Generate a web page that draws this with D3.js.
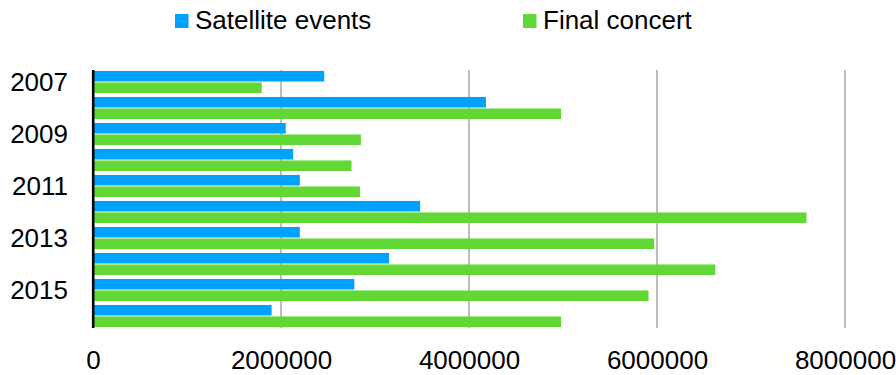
<!DOCTYPE html>
<html>
<head>
<meta charset="utf-8">
<script src="https://cdn.jsdelivr.net/npm/d3@7"></script>
<style>
  html, body { margin: 0; padding: 0; background: #fff; }
  svg { display: block; font-family: "Liberation Sans", Arial, sans-serif; }
</style>
</head>
<body>
<svg id="chart" width="896" height="375"></svg>
<script>
const years = ["2007","2008","2009","2010","2011","2012","2013","2014","2015","2016"];
const seriesNames = ["Satellite events", "Final concert"];
const satellite = [2460000, 4180000, 2050000, 2130000, 2200000, 3480000, 2200000, 3150000, 2780000, 1900000];
const finalConcert = [1795000, 4980000, 2850000, 2750000, 2840000, 7590000, 5970000, 6620000, 5910000, 4980000];
const xTicks = [0, 2000000, 4000000, 6000000, 8000000];
const yLabelYears = ["2007","2009","2011","2013","2015"];
const colors = ["#00A2FF", "#61D836"];

(function () {
const svg = d3.select("#chart");
const pLeft = 93, pRight = 845, pTop = 70, pBottom = 328;

const x = d3.scaleLinear().domain([0, 8000000]).range([pLeft, pRight]);
const y = d3.scaleBand().domain(years).range([69, 329]).paddingInner(0.15).paddingOuter(0.075);
const sub = d3.scaleBand().domain(seriesNames).range([0, y.bandwidth()]).paddingInner(0.08);

// gridlines
svg.append("g").selectAll("line").data(xTicks.filter(d => d > 0)).join("line")
  .attr("x1", d => x(d)).attr("x2", d => x(d))
  .attr("y1", pTop).attr("y2", pBottom)
  .attr("stroke", "#BDBDBD").attr("stroke-width", 2);

const data = years.map((yr, i) => ({ year: yr, values: [satellite[i], finalConcert[i]] }));

svg.append("g").selectAll("g").data(data).join("g")
  .attr("transform", d => `translate(0,${y(d.year)})`)
  .selectAll("rect").data(d => d.values.map((v, j) => ({ name: seriesNames[j], v, j })))
  .join("rect")
  .attr("x", x(0))
  .attr("y", d => sub(d.name))
  .attr("width", d => x(d.v) - x(0))
  .attr("height", sub.bandwidth())
  .attr("fill", d => colors[d.j]);

// y axis line
svg.append("line").attr("x1", 93.2).attr("x2", 93.2).attr("y1", pTop).attr("y2", pBottom)
  .attr("stroke", "#000").attr("stroke-width", 2.6);

// y labels
const yAxis = d3.axisLeft(y).tickValues(yLabelYears).tickSize(0).tickPadding(0);
const yg = svg.append("g").attr("transform", `translate(68,0)`).call(yAxis);
yg.select(".domain").remove();
yg.selectAll("text").attr("font-size", 26).attr("fill", "#000")
  .attr("font-family", "Liberation Sans, Arial, sans-serif").attr("dy", "0.36em");

// x labels
const xAxis = d3.axisBottom(x).tickValues(xTicks).tickSize(0).tickPadding(0).tickFormat(d3.format("d"));
const xg = svg.append("g").attr("transform", `translate(0,369)`).call(xAxis);
xg.select(".domain").remove();
xg.selectAll("text").attr("font-size", 26).attr("fill", "#000")
  .attr("font-family", "Liberation Sans, Arial, sans-serif").attr("dy", "0");

// legend
const legendPos = [{ sx: 175, tx: 195 }, { sx: 523, tx: 543 }];
const lg = svg.append("g");
seriesNames.forEach((n, i) => {
  lg.append("rect").attr("x", legendPos[i].sx).attr("y", 14).attr("width", 13.5).attr("height", 14).attr("fill", colors[i]);
  lg.append("text").attr("x", legendPos[i].tx).attr("y", 29).attr("font-size", 26).attr("fill", "#000").text(n);
});
})();
</script>
</body>
</html>
